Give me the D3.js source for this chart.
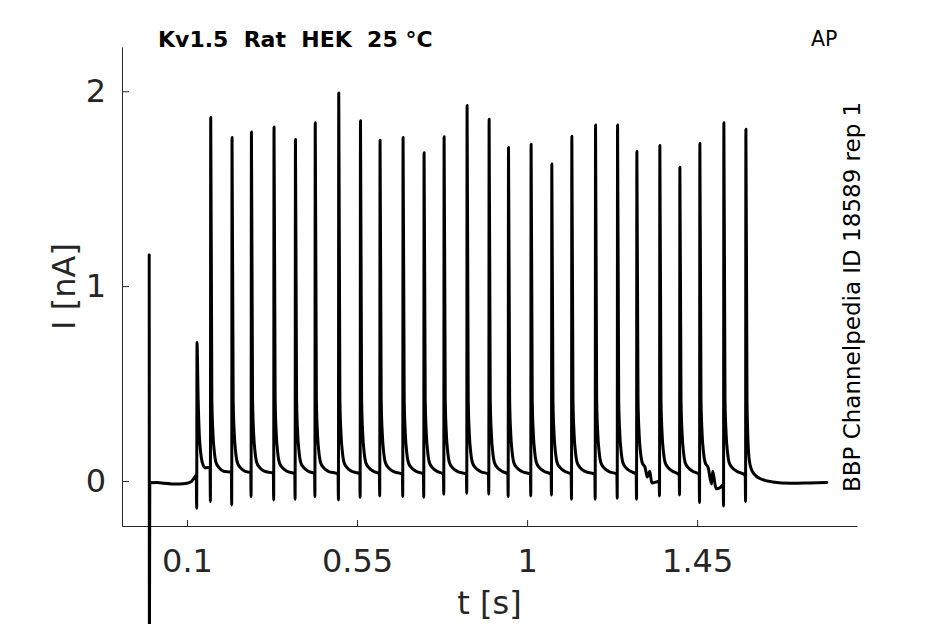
<!DOCTYPE html>
<html>
<head>
<meta charset="utf-8">
<script src="https://cdn.jsdelivr.net/npm/d3@7"></script>
<style>
  html, body { margin: 0; padding: 0; background: #fff; }
  svg { display: block; }
  text { font-family: "DejaVu Sans", sans-serif; }
</style>
</head>
<body>
<svg id="chart" width="945" height="624"></svg>
<script>
// ---------- data ----------
const titleText = "Kv1.5  Rat  HEK  25 \u00B0C";
const protocolText = "AP";
const sideText = "BBP Channelpedia ID 18589 rep 1";
const xLabel = "t [s]";
const yLabel = "I [nA]";

const xTicks = [0.1, 0.55, 1, 1.45];
const xTickLabels = ["0.1", "0.55", "1", "1.45"];
const yTicks = [0, 1, 2];
const yTickLabels = ["0", "1", "2"];

// start artifact (t = 0)
const artifactTimes = [0, 0.0006];
const artifactValues = [1.16, -0.85];

// baseline before stimulation
const preTimes = [0.0015, 0.02, 0.04, 0.06, 0.08, 0.1, 0.112, 0.12, 0.1245];
const preValues = [-0.009, -0.008, -0.012, -0.015, -0.016, -0.012, -0.002, 0.018, 0.03];

// AP-clamp evoked spikes
const spikeTimes = [0.1265, 0.1628, 0.2192, 0.2705, 0.3303, 0.3870, 0.4394, 0.5016, 0.5591,
  0.6109, 0.6718, 0.7274, 0.7804, 0.8412, 0.8995, 0.9508, 1.0106, 1.0654, 1.1184, 1.1811,
  1.2394, 1.2905, 1.3513, 1.4043, 1.4572, 1.5207, 1.5790];
const spikePeaks = [0.71, 1.865, 1.763, 1.791, 1.817, 1.752, 1.838, 1.991, 1.848, 1.749,
  1.763, 1.684, 1.766, 1.927, 1.856, 1.711, 1.728, 1.626, 1.769, 1.827, 1.827, 1.691,
  1.721, 1.61, 1.732, 1.838, 1.805];
const spikeTroughs = [-0.14, -0.106, -0.123, -0.08, -0.097, -0.094, -0.08, -0.097, -0.084,
  -0.077, -0.08, -0.084, -0.068, -0.063, -0.068, -0.08, -0.077, -0.072, -0.094, -0.094,
  -0.089, -0.094, -0.077, -0.072, -0.111, -0.128, -0.106];
// level reached just before the next spike
const restLevels = [0.07, 0.045, 0.042, 0.04, 0.038, 0.038, 0.036, 0.038, 0.036, 0.035,
  0.035, 0.035, 0.035, 0.035, 0.035, 0.035, 0.035, 0.035, 0.035, 0.035, 0.035, 0.0,
  0.03, 0.035, -0.02, 0.03];

// decay after each spike (offset from peak, current)
const decayOffsets = [0.003, 0.006, 0.0095, 0.014, 0.022, 0.034];
const decayValues = [0.42, 0.24, 0.15, 0.095, 0.068, 0.05];

// small irregularities of the baseline
const bumpTimes = [1.318, 1.33, 1.342, 1.488, 1.5, 1.51];
const bumpValues = [0.02, -0.01, -0.005, -0.015, -0.04, -0.035];

// recovery after the last spike
const postOffsets = [0.003, 0.007, 0.012, 0.022, 0.04, 0.07, 0.12, 0.17, 0.214];
const postValues = [0.4, 0.15, 0.075, 0.035, 0.01, -0.005, -0.012, -0.01, -0.008];

// ---------- build trace points ----------
const pts = [];
artifactTimes.forEach((t, i) => pts.push([t, artifactValues[i]]));
preTimes.forEach((t, i) => pts.push([t, preValues[i]]));
spikeTimes.forEach((t, i) => {
  pts.push([t - 0.0009, spikeTroughs[i]]);
  pts.push([t, spikePeaks[i]]);
  const last = i === spikeTimes.length - 1;
  if (!last) {
    const next = spikeTimes[i + 1];
    decayOffsets.forEach((o, k) => {
      if (t + o < next - 0.004) pts.push([t + o, decayValues[k]]);
    });
    pts.push([next - 0.0018, restLevels[i]]);
  } else {
    postOffsets.forEach((o, k) => pts.push([t + o, postValues[k]]));
  }
});
bumpTimes.forEach((t, i) => pts.push([t, bumpValues[i]]));
pts.sort((a, b) => a[0] - b[0]);

// ---------- drawing ----------
const svg = d3.select("#chart");
const axisColor = "#262626";

const x = d3.scaleLinear().domain([-0.072, 1.873]).range([122, 857]);
const y = d3.scaleLinear().domain([-0.231, 2.227]).range([526, 47]);

const xAxis = d3.axisBottom(x).tickValues(xTicks)
  .tickFormat((d, i) => xTickLabels[i]).tickSize(-6).tickSizeOuter(0).tickPadding(23);
const yAxis = d3.axisLeft(y).tickValues(yTicks)
  .tickFormat((d, i) => yTickLabels[i]).tickSize(-7).tickSizeOuter(0).tickPadding(16);

const gx = svg.append("g").attr("transform", "translate(0,526)").call(xAxis);
const gy = svg.append("g").attr("transform", "translate(122,0)").call(yAxis);
[gx, gy].forEach(g => {
  g.selectAll("path.domain").attr("stroke", axisColor).attr("stroke-width", 1);
  g.selectAll(".tick line").attr("stroke", axisColor).attr("stroke-width", 1);
  g.selectAll(".tick text").attr("fill", axisColor)
    .style("font-family", "DejaVu Sans").style("font-size", "32px");
});

const line = d3.line().x(d => x(d[0])).y(d => y(d[1])).curve(d3.curveMonotoneX);
svg.append("path").datum(pts)
  .attr("d", line)
  .attr("fill", "none")
  .attr("stroke", "#000")
  .attr("stroke-width", 3)
  .attr("stroke-linejoin", "round")
  .attr("stroke-linecap", "round");

svg.append("text").attr("x", 489.5).attr("y", 614)
  .attr("text-anchor", "middle").attr("fill", axisColor)
  .style("font-size", "32px").text(xLabel);

svg.append("text").attr("transform", "translate(75,286.5) rotate(-90)")
  .attr("text-anchor", "middle").attr("fill", axisColor)
  .style("font-size", "32px").text(yLabel);

svg.append("text").attr("x", 158).attr("y", 47)
  .attr("fill", "#000").style("font-size", "22px").style("font-weight", "bold")
  .style("white-space", "pre").text(titleText);

svg.append("text").attr("x", 811).attr("y", 46)
  .attr("fill", "#000").style("font-size", "20.5px").text(protocolText);

svg.append("text").attr("transform", "translate(859.5,492) rotate(-90)")
  .attr("fill", "#000").style("font-size", "23px").text(sideText);
</script>
</body>
</html>
